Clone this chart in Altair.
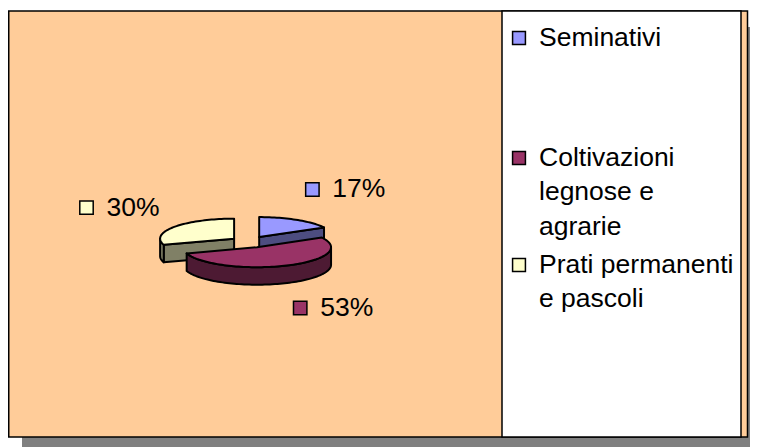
import math
import altair as alt
import pandas as pd

# ---- data ----
categories = ["Seminativi", "Coltivazioni legnose e agrarie", "Prati permanenti e pascoli"]
values = [17, 53, 30]
pct_labels = ["17%", "53%", "30%"]
legend_labels = ["Seminativi", "Coltivazioni\nlegnose e\nagrarie", "Prati permanenti\ne pascoli"]
top_colors = ["#9999FF", "#993366", "#FFFFCC"]
side_colors = ["#4D4D80", "#4D1A33", "#808066"]

# ---- layout ----
W, H = 742, 439
CX, CY, R = 241.5, 234.0, 74.0   # pie centre / radius in px
TILT = 0.27                       # vertical squash of the pie
EXPLODE = 0.257
EXPLODE_TILT = 0.3
DEPTH = 17.5 / R
STEP = 2.0
FONT = "Liberation Sans"
FS = 26.5

total = float(sum(values))
starts, ends = [], []
acc = 0.0
for v in values:
    starts.append(acc / total * 360.0)
    acc += v
    ends.append(acc / total * 360.0)


def pt(theta, ox, oy, drop=0.0):
    t = math.radians(theta)
    return (ox + math.sin(t), oy + TILT * math.cos(t) - drop)


def arc(a, b, ox, oy, drop=0.0):
    n = max(2, int(math.ceil((b - a) / STEP)) + 1)
    return [pt(a + (b - a) * j / (n - 1), ox, oy, drop) for j in range(n)]


rows = []
polys = []  # (id, fill)
order_slices = sorted(range(len(values)),
                      key=lambda s: -math.cos(math.radians((starts[s] + ends[s]) / 2)))
for s in order_slices:
    a, b = starts[s], ends[s]
    m = math.radians((a + b) / 2)
    ox, oy = EXPLODE * math.sin(m), EXPLODE * EXPLODE_TILT * math.cos(m)
    shapes = []
    if math.sin(math.radians(a)) < -1e-6:
        e1 = pt(a, ox, oy); e2 = pt(a, ox, oy, DEPTH)
        shapes.append(([(ox, oy), e1, e2, (ox, oy - DEPTH)], side_colors[s]))
    if math.sin(math.radians(b)) > 1e-6:
        e1 = pt(b, ox, oy); e2 = pt(b, ox, oy, DEPTH)
        shapes.append(([(ox, oy), e1, e2, (ox, oy - DEPTH)], side_colors[s]))
    lo, hi = max(a, 90.0), min(b, 270.0)
    if hi > lo:
        top = arc(lo, hi, ox, oy)
        bot = arc(lo, hi, ox, oy, DEPTH)
        shapes.append((top + bot[::-1], side_colors[s]))
    shapes.append(([(ox, oy)] + arc(a, b, ox, oy), top_colors[s]))
    for pts, col in shapes:
        pid = len(polys)
        polys.append((pid, col))
        for i, (u, v) in enumerate(pts):
            rows.append({"poly": pid, "i": i, "u": u, "v": v})

poly_df = pd.DataFrame(rows)

xs = alt.Scale(domain=[-CX / R, (W - CX) / R], nice=False, zero=False)
ys = alt.Scale(domain=[-(H - CY) / R, CY / R], nice=False, zero=False)

lab_rows = []
for s in range(len(values)):
    m = math.radians((starts[s] + ends[s]) / 2)
    au = 1.47 * math.sin(m)
    av = 0.9 * math.cos(m) - 0.065
    if math.sin(m) >= 0:
        tu = au + 27.5 / R
    else:
        tu = au - 55.0 / R
    lab_rows.append({"cat": categories[s], "label": pct_labels[s],
                     "tu": tu, "su": tu - 20.0 / R, "v": av})
lab_df = pd.DataFrame(lab_rows)

color_scale = alt.Scale(domain=categories, range=top_colors)
one = pd.DataFrame({"k": [0]})


def box(x1, x2, y1, y2, fill, stroke=None, sw=0):
    kw = dict(fill=fill)
    if stroke:
        kw.update(stroke=stroke, strokeWidth=sw)
    return alt.Chart(one).mark_rect(**kw).encode(
        x=alt.value(x1), x2=alt.value(x2), y=alt.value(y1), y2=alt.value(y2))


layers = [
    box(14, 760, 19, 445, "#808080"),
    box(0.75, 739.5, 3, 429, "#FFCC99", "black", 1.5),
    box(494, 733, 3, 429, "white", "black", 1.5),
]

for pid, col in polys:
    layers.append(
        alt.Chart(poly_df).transform_filter(alt.datum.poly == pid)
        .mark_line(interpolate="linear-closed", fill=col, stroke="black",
                   strokeWidth=2, strokeJoin="round")
        .encode(x=alt.X("u:Q", scale=xs, axis=None),
                y=alt.Y("v:Q", scale=ys, axis=None),
                order=alt.Order("i:Q"))
    )

layers.append(
    alt.Chart(lab_df).mark_square(size=180, stroke="black", strokeWidth=1.5, opacity=1)
    .encode(x=alt.X("su:Q", scale=xs, axis=None), y=alt.Y("v:Q", scale=ys, axis=None),
            color=alt.Color("cat:N", scale=color_scale, legend=None))
)
layers.append(
    alt.Chart(lab_df).mark_text(align="left", baseline="middle", font=FONT, fontSize=FS,
                                color="black")
    .encode(x=alt.X("tu:Q", scale=xs, axis=None), y=alt.Y("v:Q", scale=ys, axis=None),
            text="label:N")
)

leg_sq_y = [30, 150, 257]
for s in range(len(categories)):
    d = pd.DataFrame({"cat": [categories[s]], "text": [legend_labels[s]]})
    layers.append(
        alt.Chart(d).mark_square(size=165, stroke="black", strokeWidth=1.5, opacity=1)
        .encode(x=alt.value(511), y=alt.value(leg_sq_y[s]),
                color=alt.Color("cat:N", scale=color_scale, legend=None))
    )
    layers.append(
        alt.Chart(d).mark_text(align="left", baseline="alphabetic", font=FONT, fontSize=FS,
                               lineBreak="\n", lineHeight=34.5, color="black")
        .encode(x=alt.value(531), y=alt.value(leg_sq_y[s] + 7.5), text="text:N")
    )

chart = alt.layer(*layers).properties(
    width=W, height=H, padding=0, autosize=alt.AutoSizeParams(type="none"),
    background="white"
).configure_view(stroke=None)

chart.save("out.html", embed_options={"renderer": "svg", "actions": False})
